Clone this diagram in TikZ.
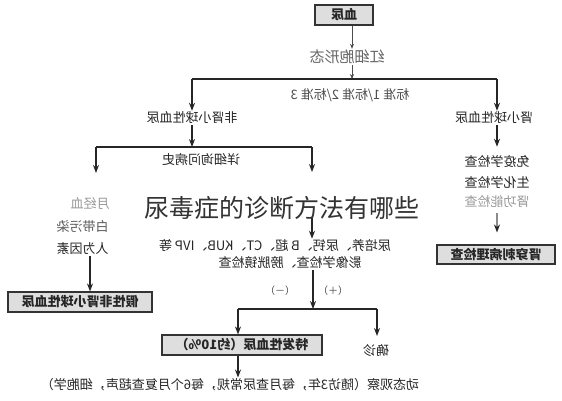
\documentclass[tikz,border=0pt]{standalone}
\usepackage{fontspec}
\newfontfamily\cjk{Noto Sans CJK SC}
\usetikzlibrary{arrows.meta}
\begin{document}
\begin{tikzpicture}[x=1pt,y=-1pt,
  txt/.style={font=\cjk\fontsize{13}{15}\selectfont, text=black!85, xscale=-1, inner sep=1pt},
  box/.style={txt, font=\cjk\bfseries\fontsize{13}{15}\selectfont, draw=black!80, fill=black!13, line width=1.1pt, inner sep=0pt},
  ln/.style={line width=1.4pt, draw=black!85},
  arr/.style={ln, -{Stealth[length=8pt,width=6pt]}},
  tarr/.style={line width=0.8pt, draw=black!70, -{Stealth[length=5pt,width=4pt]}}]
\useasboundingbox (0,0) rectangle (562,400);
\fill[white] (0,0) rectangle (562,400);

% top
\node[box, minimum width=58pt, minimum height=20pt] (xn) at (344,15) {血尿};
\node[txt, text=black!60, font=\cjk\fontsize{15}{17}\selectfont] (hx) at (347,57) {红细胞形态};
\draw[tarr] ([xshift=8pt]xn.south) -- ([xshift=5pt]hx.north);
\coordinate (j1) at (352,79);
\coordinate (jL) at (192,79);
\coordinate (jR) at (497,79);
\draw[tarr] ([xshift=5pt]hx.south) -- (j1);
\draw[ln] (jL) -- (jR);
\node[txt, text=black!70] (bz) at (350,95) {标准 1/标准 2/标准 3};

% second level
\node[txt] (fs) at (192,118) {非肾小球性血尿};
\node[txt] (ss) at (494,118) {肾小球性血尿};
\draw[arr] (jL) -- (fs.north);
\draw[arr] (jR) -- (jR |- ss.north);

% left branch
\coordinate (j2) at (192,147);
\coordinate (jL2) at (96,147);
\coordinate (jR2) at (312,147);
\coordinate (eL) at (96,173);
\coordinate (eR) at (312,172);
\draw[arr] (fs.south) -- (j2);
\draw[ln] (jL2) -- (jR2);
\draw[arr] (jL2) -- (eL);
\draw[arr] (jR2) -- (eR);
\node[txt] (xx) at (201,160) {详细询问病史};

\node[txt, text=black!40] (m1) at (90,204) {月经血};
\node[txt, text=black!65] (m2) at (82.5,227) {白带污染};
\node[txt] (m3) at (82.5,249) {人为因素};
\node[box, minimum width=144pt, minimum height=20pt] (jx) at (80,302) {假性非肾小球性血尿};
\draw[arr] ([xshift=7.5pt]m3.south) -- ([xshift=10pt]jx.north);

% right branch
\node[txt] (r1) at (497,162) {免疫学检查};
\node[txt] (r2) at (497,182) {生化学检查};
\node[txt, text=black!40] (r3) at (497,202) {肾功能检查};
\draw[arr] (ss.south -| jR) -- ([yshift=8pt]r1.north -| jR);
\node[box, minimum width=118pt, minimum height=19pt] (cc) at (496,254.5) {肾穿刺病理检查};
\draw[ln, draw=black!45, -{Stealth[length=8pt,width=6pt,black!85]}] ([yshift=-4pt]r3.south -| jR) -- ([yshift=12pt]cc.north -| jR);

% middle
\coordinate (s1) at (312,218);
\node[txt] (l1) at (275,246) {尿培养、尿钙、B 超、CT、KUB、IVP 等};
\node[txt] (l2) at (290,263) {影像学检查、膀胱镜检查};
\draw[arr] (s1) -- (s1 |- l1.north);
\coordinate (j3) at (313,309);
\coordinate (jL3) at (238,309);
\coordinate (jR3) at (377,309);
\draw[arr] (l2.south -| j3) -- (j3);
\node[txt, font=\cjk\fontsize{10}{12}\selectfont, text=black!70] (neg) at (280,291) {（－）};
\node[txt, font=\cjk\fontsize{10}{12}\selectfont, text=black!70] (pos) at (333,291) {（＋）};
\draw[ln] (jL3) -- (jR3);
\node[box, minimum width=160pt, minimum height=20pt] (tb) at (242,345) {特发性血尿（约10\%）};
\node[txt] (qz) at (376,351) {确诊};
\draw[arr] (jL3) -- (jL3 |- tb.north);
\coordinate (eQ) at (377,336);
\draw[arr] (jR3) -- (eQ);
\node[txt] (bt) at (230,385) {动态观察（随访3年，每月查尿常规，每6个月复查超声，细胞学）};
\draw[arr] (tb.south -| jL3) -- (jL3 |- bt.north);

% overlay title
\node[font=\cjk\fontsize{25}{28}\selectfont, text=black!80, inner sep=0pt] (title) at (282,208) {尿毒症的诊断方法有哪些};
\end{tikzpicture}
\end{document}
